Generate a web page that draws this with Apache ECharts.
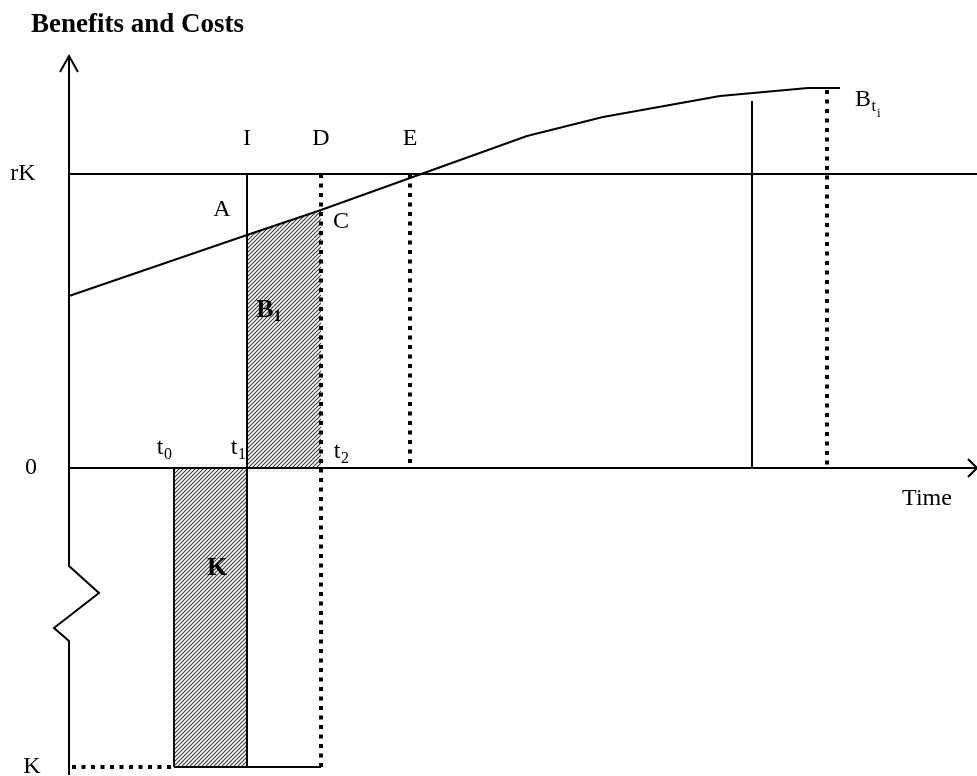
<!DOCTYPE html>
<html><head><meta charset="utf-8">
<script src="https://cdn.jsdelivr.net/npm/echarts@6/dist/echarts.min.js"></script>
<style>html,body{margin:0;padding:0;background:#fff}#c{width:977px;height:776px}</style>
</head><body><div id="c"></div>
<script>
// ---------- data (time units / value units) ----------
const benefitTime  = [0, 17.8, 25.2, 45.8, 53.4, 65.1, 73.9, 77.1];
const benefitValue = [17.2, 23.3, 25.8, 33.2, 35.1, 37.2, 38.0, 38.0];
const levelNames  = ['rK', '0', 'K'];
const levelValues = [29.4, 0, -29.9];
const timeNames  = ['t0', 't1', 't2', 'E', 'S', 'Bend'];
const timeValues = [10.5, 17.8, 25.2, 34.1, 68.3, 75.8];
const axisExtent = [0, 90.8, -30.7, 41.2];        // tMin, tMax, vMin, vMax
const investLineBottom = -8.5;
const rightSolidTop = 36.7;
const rightDottedTop = 37.8;
const kDottedRange = [0.3, 10.3];
const breakTime  = [0, 3.0, -1.5, 0];
const breakValue = [-9.8, -12.5, -16.0, -17.3];
const labelTexts = ['rK', '0', 'K', 'I', 'D', 'E', 'A', 'C', 'Time'];
const labelTime  = [-4.6, -3.8, -3.7, 17.8, 25.2, 34.1, 15.3, 27.2, 85.8];
const labelValue = [29.4, 0, -29.9, 32.9, 32.9, 32.9, 25.8, 24.6, -3.1];
const subMain  = ['t', 't', 't', 'B', 'K', 'B'];
const subText  = ['0', '1', '2', '1', '', 't'];
const subTime  = [9.1, 16.5, 26.8, 19.6, 14.8, 79.4];
const subValue = [2.0, 2.0, 1.6, 15.8, -10.0, 36.8];
const subBold  = [false, false, false, true, true, false];

// ---------- helpers ----------
const rK = levelValues[0], K = levelValues[2];
const [t0, t1, t2, tE, tS, tB] = timeValues;
const [tMin, tMax, vMin, vMax] = axisExtent;
const FONT = "'Liberation Serif','Times New Roman',serif";

function hatch() {
  const c = document.createElement('canvas');
  c.width = 4; c.height = 4;
  const g = c.getContext('2d');
  g.fillStyle = '#fff'; g.fillRect(0, 0, 4, 4);
  g.strokeStyle = '#3a3a3a'; g.lineWidth = 1.1;
  g.beginPath();
  g.moveTo(-1, 5); g.lineTo(5, -1);
  g.moveTo(-1, 1); g.lineTo(1, -1);
  g.moveTo(3, 5); g.lineTo(5, 3);
  g.stroke();
  return { image: c, repeat: 'repeat' };
}
const HATCH = hatch();

function seg(pts, width, dotted) {
  return {
    type: 'line', data: pts, symbol: 'none', silent: true, z: 5,
    lineStyle: { color: '#000', width: width || 2, type: dotted ? [4, 5.5] : 'solid', cap: 'butt' }
  };
}
function polygonSeries(pts) {
  return {
    type: 'custom', silent: true, z: 2, data: [0],
    renderItem: (p, api) => ({
      type: 'polygon',
      shape: { points: pts.map(q => api.coord(q)) },
      style: { fill: HATCH, stroke: null }
    })
  };
}

const series = [];
// hatched areas
series.push(polygonSeries([[t0, 0], [t1, 0], [t1, K], [t0, K]]));
series.push(polygonSeries([[t1, 0], [t1, benefitValue[1]], [t2, benefitValue[2]], [t2, 0]]));
// benefit curve
series.push(seg(benefitTime.map((t, i) => [t, benefitValue[i]]), 2));
// rK level
series.push(seg([[tMin, rK], [tMax, rK]], 2));
// time axis
series.push(seg([[tMin, 0], [tMax, 0]], 2));
// value axis with break (custom polyline, not clipped)
const yAxisPts = [[0, vMax]].concat(breakTime.map((t, i) => [t, breakValue[i]])).concat([[0, vMin]]);
series.push({
  type: 'custom', silent: true, z: 5, clip: false, data: [0],
  renderItem: (p, api) => ({
    type: 'polyline',
    shape: { points: yAxisPts.map(q => api.coord(q)) },
    style: { stroke: '#000', lineWidth: 2, fill: null, lineJoin: 'miter' }
  })
});
// verticals
series.push(seg([[t1, rK], [t1, investLineBottom]], 2));
series.push(seg([[t0, 0], [t0, K]], 2));
series.push(seg([[t1, 0], [t1, K]], 2));
series.push(seg([[t0, K], [t2, K]], 2));
series.push(seg([[t2, rK], [t2, K]], 4, true));
series.push(seg([[tE, rK], [tE, 0]], 4, true));
series.push(seg([[tS, rightSolidTop], [tS, 0]], 2));
series.push(seg([[tB, rightDottedTop], [tB, 0]], 4, true));
series.push(seg([[kDottedRange[0], K], [kDottedRange[1], K]], 4, true));

// arrowheads
series.push({
  type: 'custom', silent: true, z: 6, clip: false,
  data: [[0, vMax, 0], [tMax, 0, 1]],
  renderItem: (p, api) => {
    const c = api.coord([api.value(0), api.value(1)]);
    const pts = api.value(2) === 0
      ? [[c[0] - 9, c[1] + 16], [c[0], c[1]], [c[0] + 9, c[1] + 16]]
      : [[c[0] - 9, c[1] - 9], [c[0], c[1]], [c[0] - 9, c[1] + 9]];
    return { type: 'polyline', shape: { points: pts }, style: { stroke: '#000', lineWidth: 2, fill: null } };
  }
});

// plain labels
series.push({
  type: 'custom', silent: true, z: 10, clip: false,
  data: labelTexts.map((s, i) => [labelTime[i], labelValue[i]]),
  renderItem: (p, api) => {
    const c = api.coord([api.value(0), api.value(1)]);
    return {
      type: 'text', x: c[0], y: c[1],
      style: { text: labelTexts[p.dataIndex], fill: '#000', font: '24px ' + FONT, align: 'center', verticalAlign: 'middle' }
    };
  }
});
// labels with subscripts
series.push({
  type: 'custom', silent: true, z: 10, clip: false,
  data: subMain.map((s, i) => [subTime[i], subValue[i]]),
  renderItem: (p, api) => {
    const i = p.dataIndex;
    const c = api.coord([api.value(0), api.value(1)]);
    const w = subMain[i] === 't' ? 3.5 : 8;
    const weight = subBold[i] ? 'bold ' : '';
    const size = subBold[i] ? 26 : 24;
    const children = [{
      type: 'text', x: c[0], y: c[1],
      style: { text: subMain[i], fill: '#000', font: weight + size + 'px ' + FONT, align: 'center', verticalAlign: 'middle' }
    }];
    if (subText[i]) {
      children.push({
        type: 'text', x: c[0] + w + 0.5, y: c[1] + 7,
        style: { text: subText[i], fill: '#000', font: weight + '16px ' + FONT, align: 'left', verticalAlign: 'middle' }
      });
    }
    if (i === 5) {
      children.push({
        type: 'text', x: c[0] + w + 6, y: c[1] + 14,
        style: { text: 'i', fill: '#000', font: '13px ' + FONT, align: 'left', verticalAlign: 'middle' }
      });
    }
    return { type: 'group', children };
  }
});

const chart = echarts.init(document.getElementById('c'), null, { renderer: 'canvas' });
chart.setOption({
  animation: false,
  backgroundColor: '#fff',
  title: { text: 'Benefits and Costs', left: 26, top: 7,
    textStyle: { fontFamily: FONT, fontWeight: 'bold', fontSize: 27, color: '#000' } },
  grid: { left: 69, right: 0, top: 56, bottom: 1 },
  xAxis: { type: 'value', min: tMin, max: tMax, show: false },
  yAxis: { type: 'value', min: vMin, max: vMax, show: false },
  series
});
</script></body></html>
